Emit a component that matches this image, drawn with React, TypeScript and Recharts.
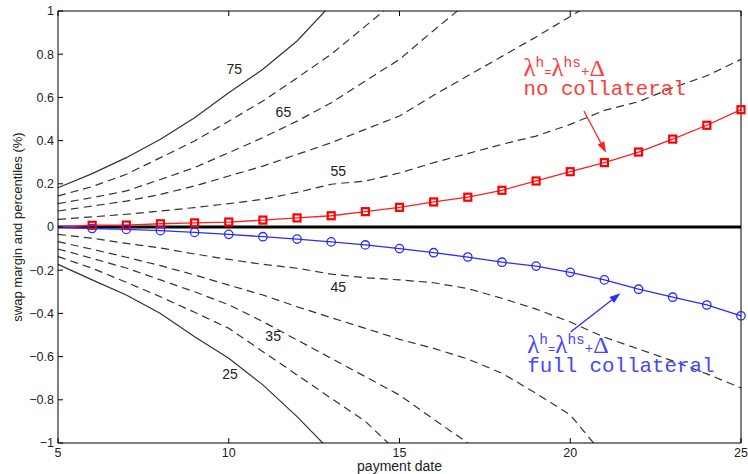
import { Line, LineChart, ReferenceDot, ReferenceLine, XAxis, YAxis } from "recharts";

const PAYMENT_DATES = [5, 6, 7, 8, 9, 10, 11, 12, 13, 14, 15, 16, 17, 18, 19, 20, 21, 22, 23, 24, 25];
const X_TICKS = [5, 10, 15, 20, 25];
const Y_TICKS = [-1, -0.8, -0.6, -0.4, -0.2, 0, 0.2, 0.4, 0.6, 0.8, 1];

// percentile curves (they stop once they leave the box)
const P75 = [0.182, 0.247, 0.321, 0.406, 0.506, 0.622, 0.73, 0.861, 1.03];
const P70 = [0.144, 0.187, 0.244, 0.321, 0.398, 0.49, 0.583, 0.69, 0.8, 0.93, 1.06];
const P65 = [0.108, 0.136, 0.167, 0.22, 0.275, 0.344, 0.414, 0.49, 0.575, 0.676, 0.776, 0.91, 1.04];
const P60 = [0.074, 0.097, 0.12, 0.151, 0.19, 0.236, 0.282, 0.336, 0.39, 0.452, 0.514, 0.61, 0.7, 0.79, 0.88, 0.975, 1.07];
const P55 = [0.035, 0.047, 0.059, 0.074, 0.09, 0.108, 0.128, 0.16, 0.198, 0.213, 0.25, 0.298, 0.34, 0.383, 0.421, 0.475, 0.54, 0.58, 0.645, 0.7, 0.776];
const P50 = [0, 0, 0, 0, 0, 0, 0, 0, 0, 0, 0, 0, 0, 0, 0, 0, 0, 0, 0, 0, 0];
const P45 = [-0.034, -0.052, -0.076, -0.097, -0.125, -0.15, -0.173, -0.191, -0.218, -0.235, -0.245, -0.258, -0.285, -0.33, -0.38, -0.44, -0.51, -0.565, -0.62, -0.68, -0.745];
const P40 = [-0.068, -0.103, -0.14, -0.179, -0.222, -0.269, -0.315, -0.369, -0.42, -0.469, -0.52, -0.562, -0.611, -0.677, -0.77, -0.87, -1.06];
const P35 = [-0.102, -0.145, -0.19, -0.245, -0.3, -0.36, -0.438, -0.523, -0.608, -0.693, -0.778, -0.89, -1.0, -1.1];
const P30 = [-0.137, -0.191, -0.256, -0.323, -0.395, -0.469, -0.577, -0.685, -0.793, -0.9, -1.05];
const P25 = [-0.173, -0.245, -0.315, -0.4, -0.508, -0.608, -0.731, -0.878, -1.04];

const NO_COLLATERAL = [0, 0.008, 0.009, 0.015, 0.019, 0.023, 0.032, 0.042, 0.052, 0.071, 0.091, 0.116, 0.138, 0.17, 0.213, 0.256, 0.298, 0.347, 0.407, 0.471, 0.543];
const FULL_COLLATERAL = [0, -0.007, -0.011, -0.017, -0.025, -0.034, -0.045, -0.056, -0.069, -0.083, -0.1, -0.119, -0.139, -0.163, -0.181, -0.21, -0.245, -0.288, -0.325, -0.361, -0.411];

const PERCENTILES = [
  { key: "p75", values: P75, dashed: false },
  { key: "p70", values: P70, dashed: true },
  { key: "p65", values: P65, dashed: true },
  { key: "p60", values: P60, dashed: true },
  { key: "p55", values: P55, dashed: true },
  { key: "p45", values: P45, dashed: true },
  { key: "p40", values: P40, dashed: true },
  { key: "p35", values: P35, dashed: true },
  { key: "p30", values: P30, dashed: true },
  { key: "p25", values: P25, dashed: false },
];

const CONTOUR_LABELS = [
  { text: "75", x: 10.16, y: 0.731 },
  { text: "65", x: 11.6, y: 0.532 },
  { text: "55", x: 13.21, y: 0.259 },
  { text: "45", x: 13.21, y: -0.278 },
  { text: "35", x: 11.3, y: -0.505 },
  { text: "25", x: 10.04, y: -0.681 },
];

const rows = PAYMENT_DATES.map((x, i) => {
  const row: Record<string, number | null> = { x };
  PERCENTILES.forEach((p) => {
    row[p.key] = i < p.values.length ? p.values[i] : null;
  });
  row.p50 = P50[i];
  row.noColl = NO_COLLATERAL[i];
  row.fullColl = FULL_COLLATERAL[i];
  return row;
});

const RED = "#ff1f1f";
const BLUE = "#2b2bff";
const SANS = "'Liberation Sans', Arial, Helvetica, sans-serif";
const MONO = "'Liberation Mono', 'Courier New', monospace";
const SERIF = "'Liberation Serif', 'Times New Roman', serif";

const fmtTick = (v: number) => {
  if (v === 0) return "0";
  const s = String(Math.abs(v));
  return v < 0 ? "\u2212" + s : s;
};

function SquareDot(props: any) {
  const { cx, cy, index } = props;
  if (index === 0 || cx == null || cy == null) return <g key={`sq${index}`} />;
  return (
    <rect
      key={`sq${index}`}
      x={cx - 3.5}
      y={cy - 3.5}
      width={7}
      height={7}
      fill="none"
      stroke="#ff0000"
      strokeWidth={2.2}
    />
  );
}

function CircleDot(props: any) {
  const { cx, cy, index } = props;
  if (index === 0 || cx == null || cy == null) return <g key={`ci${index}`} />;
  return <circle key={`ci${index}`} cx={cx} cy={cy} r={4.2} fill="none" stroke={BLUE} strokeWidth={1.3} />;
}

function Arrow(props: any) {
  const { x1, y1, x2, y2, color } = props;
  const len = Math.hypot(x2 - x1, y2 - y1);
  const ux = (x2 - x1) / len;
  const uy = (y2 - y1) / len;
  const bx = x2 - ux * 11;
  const by = y2 - uy * 11;
  const px = -uy * 3.8;
  const py = ux * 3.8;
  return (
    <g>
      <line x1={x1} y1={y1} x2={bx} y2={by} stroke={color} strokeWidth={1.3} />
      <polygon points={`${x2},${y2} ${bx + px},${by + py} ${bx - px},${by - py}`} fill={color} />
    </g>
  );
}

function Annotation(props: any) {
  const { viewBox, color, caption, gap } = props;
  const x = viewBox.x + viewBox.width / 2;
  const y = viewBox.y + viewBox.height / 2;
  return (
    <g fill={color}>
      <text x={x} y={y} fontFamily={MONO} fontSize={14.5}>
        <tspan fontFamily={SERIF} fontSize={25}>λ</tspan>
        <tspan dy={-9}>h</tspan>
        <tspan dy={9} fontSize={12}>=</tspan>
        <tspan fontFamily={SERIF} fontSize={25}>λ</tspan>
        <tspan dy={-9}>hs</tspan>
        <tspan dy={9} fontSize={14}>+</tspan>
        <tspan fontFamily={SERIF} fontSize={24}>Δ</tspan>
      </text>
      <text x={x} y={y + gap} fontFamily={MONO} fontSize={20.8}>
        {caption}
      </text>
    </g>
  );
}

function ContourLabel(props: any) {
  const { viewBox, text } = props;
  return (
    <text
      x={viewBox.x + viewBox.width / 2}
      y={viewBox.y + viewBox.height / 2}
      textAnchor="middle"
      dominantBaseline="central"
      fontSize={14}
      fill="#222"
    >
      {text}
    </text>
  );
}

export default function App() {
  return (
    <div style={{ position: "absolute", left: 0, top: 0, fontFamily: SANS, background: "#fff" }}>
      <LineChart width={748} height={474} data={rows} margin={{ top: 10, right: 6, bottom: 0, left: 0 }}>
        <XAxis
          dataKey="x"
          type="number"
          domain={[5, 25]}
          ticks={X_TICKS}
          interval={0}
          height={31}
          tickSize={-5}
          tickMargin={10}
          stroke="#000"
          tick={{ fontSize: 12.5, fill: "#222" }}
          label={(p: any) => (
            <text
              x={p.viewBox.x + p.viewBox.width / 2}
              y={p.viewBox.y + p.viewBox.height - 3}
              textAnchor="middle"
              fontSize={14}
              fill="#222"
            >
              payment date
            </text>
          )}
        />
        <XAxis
          xAxisId="top"
          orientation="top"
          dataKey="x"
          type="number"
          domain={[5, 25]}
          ticks={X_TICKS}
          interval={0}
          height={1}
          tickSize={-5}
          stroke="#000"
          tickFormatter={() => ""}
        />
        <YAxis
          type="number"
          domain={[-1, 1]}
          ticks={Y_TICKS}
          interval={0}
          allowDataOverflow
          width={58}
          tickSize={-5}
          tickMargin={9}
          stroke="#000"
          tick={{ fontSize: 12.5, fill: "#222" }}
          tickFormatter={fmtTick}
          label={(p: any) => (
            <text
              transform={`translate(${p.viewBox.x + 17.5}, ${p.viewBox.y + p.viewBox.height / 2}) rotate(-90)`}
              textAnchor="middle"
              dominantBaseline="central"
              fontSize={13}
              fill="#222"
            >
              swap margin and percentiles (%)
            </text>
          )}
        />
        <YAxis
          yAxisId="right"
          orientation="right"
          type="number"
          domain={[-1, 1]}
          ticks={Y_TICKS}
          interval={0}
          width={1}
          tickSize={-5}
          stroke="#000"
          tickFormatter={() => ""}
        />
        {PERCENTILES.map((p) => (
          <Line
            key={p.key}
            dataKey={p.key}
            stroke="#333"
            strokeWidth={1.2}
            strokeDasharray={p.dashed ? "8 5" : undefined}
            dot={false}
            activeDot={false}
            isAnimationActive={false}
          />
        ))}
        <Line dataKey="p50" stroke="#000" strokeWidth={2.8} dot={false} activeDot={false} isAnimationActive={false} />
        <Line
          dataKey="noColl"
          stroke={RED}
          strokeWidth={1.3}
          dot={(p: any) => <SquareDot {...p} />}
          activeDot={false}
          isAnimationActive={false}
        />
        <Line
          dataKey="fullColl"
          stroke={BLUE}
          strokeWidth={1.3}
          dot={(p: any) => <CircleDot {...p} />}
          activeDot={false}
          isAnimationActive={false}
        />
        {CONTOUR_LABELS.map((c) => (
          <ReferenceDot
            key={c.text}
            x={c.x}
            y={c.y}
            r={1}
            fill="none"
            stroke="none"
            label={(p: any) => <ContourLabel {...p} text={c.text} />}
          />
        ))}
        <ReferenceLine
          segment={[
            { x: 20.4, y: 0.537 },
            { x: 21.05, y: 0.344 },
          ]}
          shape={(p: any) => <Arrow {...p} color={RED} />}
        />
        <ReferenceLine
          segment={[
            { x: 20.01, y: -0.486 },
            { x: 21.47, y: -0.307 },
          ]}
          shape={(p: any) => <Arrow {...p} color={BLUE} />}
        />
        <ReferenceDot
          x={18.63}
          y={0.70}
          r={1}
          fill="none"
          stroke="none"
          label={(p: any) => <Annotation {...p} color="#ff3a3a" caption="no collateral" gap={19.5} />}
        />
        <ReferenceDot
          x={18.74}
          y={-0.585}
          r={1}
          fill="none"
          stroke="none"
          label={(p: any) => <Annotation {...p} color="#4646ff" caption="full collateral" gap={18.5} />}
        />
      </LineChart>
    </div>
  );
}
